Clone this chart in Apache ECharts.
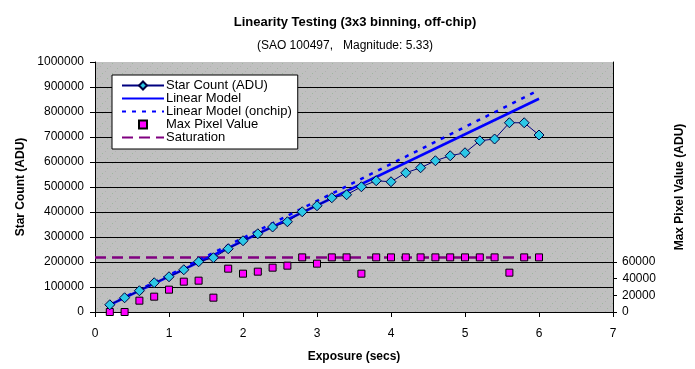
<!DOCTYPE html>
<html>
<head>
<meta charset="utf-8">
<script src="https://cdn.jsdelivr.net/npm/echarts@6/dist/echarts.min.js"></script>
<style>
html,body{margin:0;padding:0;background:#fff;}
#chart{width:695px;height:369px;}
</style>
</head>
<body>
<div id="chart"></div>
<script>
const exposure = [0.2,0.4,0.6,0.8,1.0,1.2,1.4,1.6,1.8,2.0,2.2,2.4,2.6,2.8,3.0,3.2,3.4,3.6,3.8,4.0,4.2,4.4,4.6,4.8,5.0,5.2,5.4,5.6,5.8,6.0];
const starCount = [29000,57000,85000,117000,141000,169000,201000,217000,253000,285000,313000,340000,361000,401000,425000,457000,469000,501000,525000,521000,557000,577000,605000,625000,637000,685000,692000,757000,757000,708000];
const maxPixel = [0,0,13600,18400,26800,36400,37600,17200,52000,46000,48400,53200,55600,65535,58000,65535,65535,46000,65535,65535,65535,65535,65535,65535,65535,65535,65535,47200,65535,65535];
const modelX = [0.2, 6.0];
const linearModel = [28400, 853000];
const linearModelOnchip = [29600, 888000];
const saturationX = [0, 6.0];
const saturationLevel = 65535;
const xTicks = [0,1,2,3,4,5,6,7];
const rightTickLabels = [0,20000,40000,60000];

const FONT = '"Liberation Sans", Arial, sans-serif';

function pair(xs, ys){ return xs.map((x,i)=>[x, ys[i]]); }
const plain = v => String(v);

// plot-area texture (gray with sparse green dots)
const pc = document.createElement('canvas');
pc.width = 10; pc.height = 10;
const pctx = pc.getContext('2d');
pctx.fillStyle = '#C0C0C0'; pctx.fillRect(0,0,10,10);
pctx.fillStyle = '#9DB89D';
pctx.fillRect(2,3,1,1); pctx.fillRect(7,8,1,1);
pctx.fillStyle = '#B0B0B0';
pctx.fillRect(5,1,1,1); pctx.fillRect(0,6,1,1);

const rightLabelStyle = {fontFamily:FONT, fontSize:12, lineHeight:10, color:'#000', margin:9, formatter:plain, hideOverlap:false, interval:0, showMinLabel:true, showMaxLabel:true};

function labelAxis(values){
  return {type:'value', min:0, max:300000, interval:20000, position:'right', offset:0,
    axisLine:{show:false, onZero:false}, axisTick:{show:false}, splitLine:{show:false},
    axisLabel:Object.assign({show:true, customValues:values}, rightLabelStyle)};
}

const chart = echarts.init(document.getElementById('chart'), null, {renderer:'canvas'});
const option = {
  animation: false,
  textStyle: {fontFamily: FONT, color:'#000'},
  title: [
    {text:'Linearity Testing (3x3 binning, off-chip)', left:350, top:11, textAlign:'center',
     textStyle:{fontFamily:FONT, fontSize:13, fontWeight:'bold', color:'#000'}},
    {text:'(SAO 100497,   Magnitude: 5.33)', left:340, top:35, textAlign:'center',
     textStyle:{fontFamily:FONT, fontSize:12, fontWeight:'normal', color:'#000'}}
  ],
  legend: {
    orient:'vertical', left:112, top:75,
    padding:[4,6,5,9],
    itemWidth:42, itemHeight:10, itemGap:0,
    backgroundColor:'#fff', borderColor:'#000', borderWidth:1, borderRadius:0,
    textStyle:{fontFamily:FONT, fontSize:13, lineHeight:13, color:'#000', padding:[0,0,0,-3]},
    data:[
      {name:'Star Count (ADU)'},
      {name:'Linear Model', itemStyle:{opacity:0}},
      {name:'Linear Model (onchip)', itemStyle:{opacity:0}},
      {name:'Max Pixel Value'},
      {name:'Saturation', itemStyle:{opacity:0}}
    ]
  },
  grid: {left:95, right:82, top:62, bottom:57, show:true, backgroundColor:{image:pc, repeat:'repeat'}, borderWidth:0},
  xAxis: {type:'value', min:0, max:7, interval:1,
     name:'Exposure (secs)', nameLocation:'middle', nameGap:39,
     nameTextStyle:{fontFamily:FONT, fontSize:12, fontWeight:'bold', color:'#000'},
     axisLine:{show:true, onZero:false, lineStyle:{color:'#000', width:1}},
     axisTick:{show:true, inside:false, length:5, lineStyle:{color:'#000'}},
     axisLabel:{fontFamily:FONT, fontSize:12, color:'#000', margin:16, formatter:plain},
     splitLine:{show:false}},
  yAxis: [
    {type:'value', min:0, max:1000000, interval:100000, position:'left',
     name:'Star Count (ADU)', nameLocation:'middle', nameGap:58, nameRotate:90,
     nameTextStyle:{fontFamily:FONT, fontSize:12, fontWeight:'bold', color:'#000'},
     axisLine:{show:true, onZero:false, lineStyle:{color:'#000', width:1}},
     axisTick:{show:true, length:5, lineStyle:{color:'#000'}},
     axisLabel:{fontFamily:FONT, fontSize:12, color:'#000', margin:11, formatter:plain},
     splitLine:{show:true, showMaxLine:false, lineStyle:{color:'#000', width:1}}},
    {type:'value', min:0, max:300000, interval:20000, position:'right',
     name:'Max Pixel Value (ADU)', nameLocation:'middle', nameGap:61, nameRotate:90,
     nameTextStyle:{fontFamily:FONT, fontSize:12, fontWeight:'bold', color:'#000'},
     axisLine:{show:true, onZero:false, lineStyle:{color:'#000', width:1}},
     axisTick:{show:true, length:4, customValues:rightTickLabels, lineStyle:{color:'#000'}},
     axisLabel:Object.assign({show:true, customValues:[rightTickLabels[0]]}, rightLabelStyle),
     splitLine:{show:false}},
    labelAxis([rightTickLabels[1]]),
    labelAxis([rightTickLabels[3]])
  ],
  series: [
    {name:'Linear Model', type:'line', yAxisIndex:0, data:pair(modelX, linearModel),
     symbol:'none', z:3, lineStyle:{color:'#0000FF', width:2.5}, itemStyle:{color:'#0000FF'}},
    {name:'Linear Model (onchip)', type:'line', yAxisIndex:0, data:pair(modelX, linearModelOnchip),
     symbol:'none', z:3, lineStyle:{color:'#0000FF', width:2.5, type:[4,6]}, itemStyle:{color:'#0000FF'}},
    {name:'Saturation', type:'line', yAxisIndex:1, data:saturationX.map(x=>[x, saturationLevel]),
     symbol:'none', z:2, lineStyle:{color:'#800080', width:2.5, type:[11,6]}, itemStyle:{color:'#800080'}},
    {name:'Max Pixel Value', type:'line', yAxisIndex:1, data:pair(exposure, maxPixel),
     symbol:'rect', symbolSize:7, showAllSymbol:true, z:4,
     lineStyle:{width:0, opacity:0},
     itemStyle:{color:'#FF00FF', borderColor:'#000', borderWidth:1, opacity:1}},
    {name:'Star Count (ADU)', type:'line', yAxisIndex:0, data:pair(exposure, starCount),
     symbol:'diamond', symbolSize:10, showAllSymbol:true, z:5,
     lineStyle:{color:'#000080', width:1},
     itemStyle:{color:'#2CC8E6', borderColor:'#000040', borderWidth:1}},
    {name:'rightAxisLabel40000', type:'scatter', yAxisIndex:1, clip:false, silent:true,
     data:[[xTicks[xTicks.length-1], rightTickLabels[2]]],
     symbol:'circle', symbolSize:1, itemStyle:{color:'rgba(0,0,0,0)', opacity:1},
     label:{show:true, position:'right', distance:9, fontFamily:FONT, fontSize:12, color:'#000', opacity:1,
            formatter:p=>String(p.value[1])},
     labelLayout:{hideOverlap:false}}
  ]
};
chart.setOption(option);
</script>
</body>
</html>
